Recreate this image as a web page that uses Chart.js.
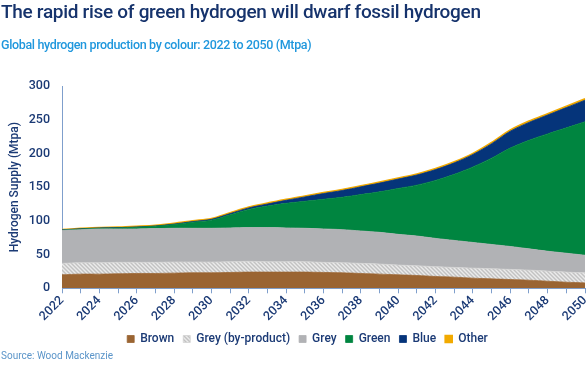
<!DOCTYPE html>
<html><head><meta charset="utf-8">
<script src="https://cdn.jsdelivr.net/npm/chart.js@4/dist/chart.umd.min.js"></script>
<style>
html,body{margin:0;padding:0;background:#fff;}
body{width:587px;height:366px;position:relative;overflow:hidden;font-family:Roboto,sans-serif;}
#wrap{position:absolute;left:0;top:0;width:587px;height:366px}
#title{position:absolute;left:1px;top:0px;font-size:19px;font-weight:500;color:#16336c;white-space:nowrap;letter-spacing:-0.3px}
#subtitle{position:absolute;left:1px;top:37px;font-size:12.5px;font-weight:500;color:#1f97dd;white-space:nowrap;letter-spacing:-0.35px}
#source{position:absolute;left:1px;top:350px;font-size:10px;color:#5b95c9;white-space:nowrap}
</style></head><body>
<div id="wrap"><canvas id="c" width="587" height="366"></canvas></div>
<div id="title">The rapid rise of green hydrogen will dwarf fossil hydrogen</div>
<div id="subtitle">Global hydrogen production by colour: 2022 to 2050 (Mtpa)</div>
<div id="source">Source: Wood Mackenzie</div>
<script>
const years = [2022,2023,2024,2025,2026,2027,2028,2029,2030,2031,2032,2033,2034,2035,2036,2037,2038,2039,2040,2041,2042,2043,2044,2045,2046,2047,2048,2049,2050];
const brown = [20,21,21,21.5,22,22,22.5,23,23,23.5,24,24,24,24,23.5,23,22,21,20,19,17.5,16.5,15,14,13,12,10.5,9,8];
const greyByProduct = [17,17,17,17,16.5,16.5,16.5,16,16,16,16,15.5,15.5,15.5,15,15,15,15,14.5,14.5,14.5,14.5,15,15,15,15,15,15,15];
const grey = [49,49,50,49.5,49.5,50,50,50,50,50,50,50.5,50,49.5,49.5,49,48,47,45.5,44,42,40,38,36,34,31.5,29.5,28,26];
const green = [0.3,0.8,1,1.5,2.5,3.5,5.5,9,12,19.5,27,32,36.5,40,44,48,54,60,68,75.5,86,98,112,128,146,161,174,186,198];
const blue = [0.5,0.5,0.5,0.5,0.5,0.5,0.8,1,1.3,1.8,2.2,3,4.5,6.5,8.5,10,11.5,13,14,15,16,17,18.5,21.5,25,26.5,28,30,32];
const other = [0.3,0.5,0.7,0.8,1,1,1.2,1.2,1.3,1.3,1.3,1.3,1.5,1.5,1.5,1.5,1.5,1.5,1.5,1.5,1.5,1.5,1.5,1.8,1.8,2,2,2,2];
const seriesNames = ['Brown','Grey (by-product)','Grey','Green','Blue','Other'];
const yTicks = [0,50,100,150,200,250,300];

const navy = '#1b3a75';
const axisCol = '#7f9fcc';

// fine hatch pattern for by-product grey
const pc = document.createElement('canvas');
pc.width = 4; pc.height = 4;
const px = pc.getContext('2d');
px.fillStyle = '#d6d6d6'; px.fillRect(0,0,4,4);
px.fillStyle = '#c2c2c2';
[[0,0],[1,1],[2,2],[3,3]].forEach(p=>px.fillRect(p[0],p[1],1,1));
px.fillStyle = '#ebebeb';
[[2,0],[3,1],[0,2],[1,3]].forEach(p=>px.fillRect(p[0],p[1],1,1));
const hatch = document.getElementById('c').getContext('2d').createPattern(pc,'repeat');

const fills = ['#9a6432', hatch, '#b1b2b5', '#008540', '#05347a', '#f2aa00'];
const borders = ['#9a6432', '#d2d2d2', '#b1b2b5', '#008540', '#05347a', '#f2aa00'];
const seriesData = [brown, greyByProduct, grey, green, blue, other];

const datasets = seriesData.map((d,i)=>({
  label: seriesNames[i],
  data: d,
  backgroundColor: fills[i],
  borderColor: borders[i],
  borderWidth: i===5 ? 1.6 : 0.8,
  fill: i===0 ? 'origin' : '-1',
  pointRadius: 0,
  tension: 0.3
}));

// shift the bottom legend so that it is centred like the original
const legendShift = {
  id: 'legendShift',
  afterLayout(chart) {
    const lg = chart.legend;
    if (lg) { lg.left += 15; lg.right += 15; }
  }
};

new Chart(document.getElementById('c'), {
  type: 'line',
  data: { labels: years, datasets },
  plugins: [legendShift],
  options: {
    responsive: false,
    animation: false,
    devicePixelRatio: 1,
    layout: { padding: { top: 86, left: 0, right: 2, bottom: 11 } },
    plugins: {
      legend: {
        position: 'bottom',
        labels: {
          color: navy,
          boxWidth: 7, boxHeight: 7,
          padding: 9,
          font: { family: 'Roboto', size: 12, weight: '500' }
        }
      },
      tooltip: { enabled: false }
    },
    scales: {
      x: {
        type: 'category',
        offset: false,
        afterFit: (s)=>{ s.paddingLeft = 0; s.paddingRight = 0; },
        grid: { display: true, drawOnChartArea: false, drawTicks: true, tickLength: 5, color: axisCol },
        border: { display: true, color: axisCol, width: 1 },
        ticks: {
          autoSkip: false, minRotation: 45, maxRotation: 45, padding: 0,
          color: navy, font: { family: 'Roboto', size: 12.5, weight: '500' },
          callback: function(v, i){ const y = years[i]; return y % 2 === 0 ? String(y) : ''; }
        }
      },
      y: {
        stacked: true,
        min: yTicks[0], max: yTicks[yTicks.length-1],
        afterBuildTicks: (s)=>{ s.ticks = yTicks.map(v=>({value:v})); },
        afterFit: (s)=>{ s.width = 62; },
        grid: { display: true, drawOnChartArea: false, drawTicks: false, color: axisCol },
        border: { display: true, color: axisCol, width: 1 },
        ticks: { padding: 12, color: navy, font: { family: 'Roboto', size: 12.5, weight: '500' } },
        title: { display: true, text: 'Hydrogen Supply (Mtpa)', color: navy, padding: {top:8,bottom:0}, font: { family: 'Roboto', size: 12, weight: '500' } }
      }
    }
  }
});
</script>
</body></html>
